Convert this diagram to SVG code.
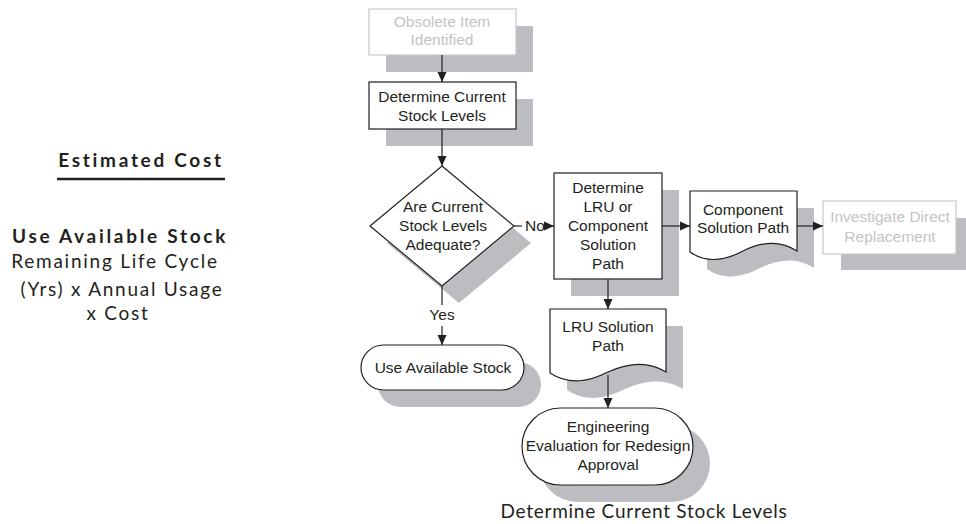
<svg xmlns="http://www.w3.org/2000/svg" width="966" height="524" viewBox="0 0 966 524">
<style>
.sh{fill:#bcbdc0;stroke:none}
.nd{fill:#fff;stroke:#231f20;stroke-width:1.2}
.fd{fill:#fff;stroke:#c8c8c8;stroke-width:1.2}
.t{font-family:"Liberation Sans",Arial,sans-serif;font-size:15.5px;fill:#231f20;text-anchor:middle}
.tf{font-family:"Liberation Sans",Arial,sans-serif;font-size:15.5px;fill:#c4c4c4;text-anchor:middle}
.g{font-family:Lato,"Open Sans",sans-serif;font-size:19px;fill:#231f20;text-anchor:middle;letter-spacing:1.75px}
.gb{font-weight:bold;letter-spacing:2.7px}
.cap{letter-spacing:0.75px}
.c{stroke:#231f20;stroke-width:1.2;fill:none}
</style>
<defs>
<marker id="ah" markerUnits="userSpaceOnUse" markerWidth="10" markerHeight="10" refX="10" refY="5" orient="auto">
<path d="M0,0.5 L10,5 L0,9.5 Z" fill="#231f20"/>
</marker>
</defs>
<g id="legend">
<text class="g gb" x="141" y="167">Estimated Cost</text>
<line x1="57" y1="179" x2="225" y2="179" stroke="#231f20" stroke-width="2.5"/>
<text class="g gb" x="120" y="243">Use Available Stock</text>
<text class="g" x="115" y="268">Remaining Life Cycle</text>
<text class="g" x="122" y="296">(Yrs) x Annual Usage</text>
<text class="g" x="118" y="320">x Cost</text>
</g>
<g id="n-obsolete">
<rect class="sh" x="386" y="26" width="147" height="46"/>
<rect class="fd" x="369" y="9" width="147" height="46"/>
<text class="tf" x="442" y="27">Obsolete Item</text>
<text class="tf" x="442" y="45">Identified</text>
</g>
<g id="n-determine">
<rect class="sh" x="386" y="99" width="147" height="47"/>
<rect class="nd" x="369" y="82" width="147" height="47"/>
<text class="t" x="442" y="102">Determine Current</text>
<text class="t" x="442" y="121">Stock Levels</text>
</g>
<g id="n-decision">
<path class="sh" d="M459,183 L531,243 L459,303 L387,243 Z"/>
<path class="nd" d="M442,166 L514,226 L442,286 L370,226 Z"/>
<text class="t" x="443" y="212">Are Current</text>
<text class="t" x="443" y="231">Stock Levels</text>
<text class="t" x="443" y="250">Adequate?</text>
</g>
<g id="n-use-stock">
<rect class="sh" x="378" y="362" width="163" height="45" rx="22.5"/>
<rect class="nd" x="361" y="345" width="163" height="45" rx="22.5"/>
<text class="t" x="443" y="373">Use Available Stock</text>
</g>
<g id="n-lru-or-comp">
<rect class="sh" x="571" y="190" width="108" height="106"/>
<rect class="nd" x="554" y="173" width="108" height="106"/>
<text class="t" x="608" y="193">Determine</text>
<text class="t" x="608" y="212">LRU or</text>
<text class="t" x="608" y="231">Component</text>
<text class="t" x="608" y="250">Solution</text>
<text class="t" x="608" y="269">Path</text>
</g>
<g id="n-component">
<path class="sh" d="M707,208 H814 V268 C799,258 780,258 760,268 C743,277 724,281 707,269 Z"/>
<path class="nd" d="M690,191 H797 V251 C782,241 763,241 743,251 C726,260 707,264 690,252 Z"/>
<text class="t" x="743" y="215">Component</text>
<text class="t" x="743" y="233">Solution Path</text>
</g>
<g id="n-investigate">
<rect class="sh" x="841" y="218" width="133" height="52"/>
<rect class="fd" x="823" y="201" width="133" height="53"/>
<text class="tf" x="890" y="222">Investigate Direct</text>
<text class="tf" x="890" y="242">Replacement</text>
</g>
<g id="n-lru">
<path class="sh" d="M567,326 H683 V389 C667,379 647,379 625,389 C607,398 587,403 567,390 Z"/>
<path class="nd" d="M550,309 H666 V372 C650,362 630,362 608,372 C590,381 570,386 550,373 Z"/>
<text class="t" x="608" y="332">LRU Solution</text>
<text class="t" x="608" y="351">Path</text>
</g>
<g id="n-engineering">
<rect class="sh" x="539" y="425" width="171" height="77" rx="38.5"/>
<rect class="nd" x="522" y="408" width="171" height="77" rx="38.5"/>
<text class="t" x="608" y="432">Engineering</text>
<text class="t" x="608" y="451">Evaluation for Redesign</text>
<text class="t" x="608" y="470">Approval</text>
</g>
<g id="connectors">
<line class="c" x1="442" y1="55" x2="442" y2="82" marker-end="url(#ah)"/>
<line class="c" x1="442" y1="129" x2="442" y2="166" marker-end="url(#ah)"/>
<line class="c" x1="514" y1="226" x2="522" y2="226"/>
<text class="t" x="535" y="231">No</text>
<line class="c" x1="546" y1="226" x2="554" y2="226" marker-end="url(#ah)"/>
<line class="c" x1="442" y1="286" x2="442" y2="305"/>
<text class="t" x="442" y="320">Yes</text>
<line class="c" x1="442" y1="326" x2="442" y2="345" marker-end="url(#ah)"/>
<line class="c" x1="662" y1="226" x2="690" y2="226" marker-end="url(#ah)"/>
<line class="c" x1="797" y1="226" x2="823" y2="226" marker-end="url(#ah)"/>
<line class="c" x1="608" y1="279" x2="608" y2="309" marker-end="url(#ah)"/>
<line class="c" x1="608" y1="375" x2="608" y2="408" marker-end="url(#ah)"/>
</g>
<text class="g cap" x="644" y="518">Determine Current Stock Levels</text>
</svg>
